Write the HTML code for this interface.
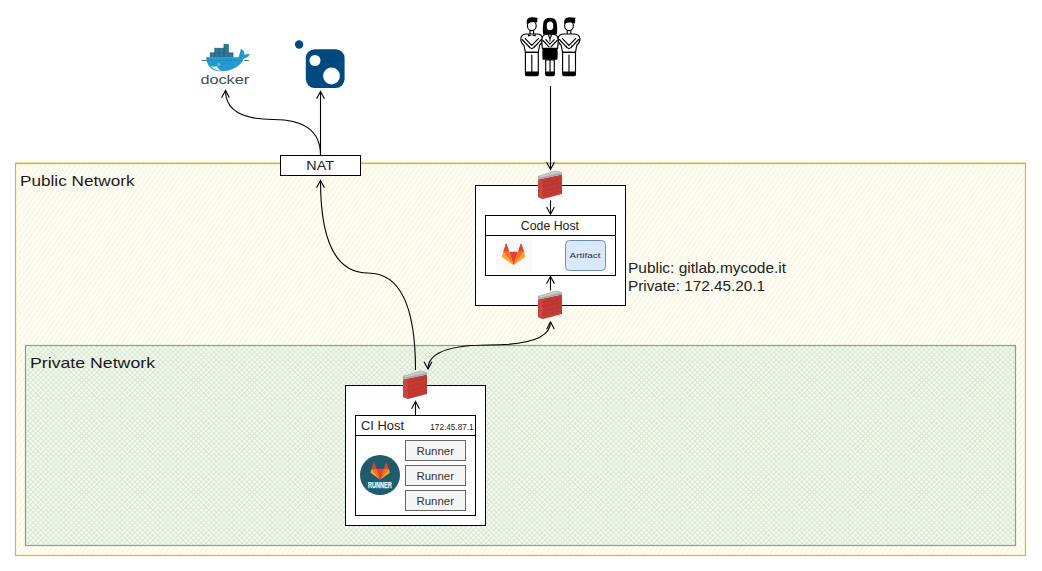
<!DOCTYPE html>
<html><head><meta charset="utf-8"><title>Network diagram</title>
<style>
html,body{margin:0;padding:0;background:#fff;width:1042px;height:571px;overflow:hidden;}
svg{display:block;font-family:"Liberation Sans",sans-serif;}
</style></head>
<body>
<svg width="1042" height="571" viewBox="0 0 1042 571">
<defs>
  <pattern id="hatchY" patternUnits="userSpaceOnUse" width="4" height="4" patternTransform="rotate(-55)">
    <rect width="4" height="4" fill="#fefdf5"/>
    <rect width="4" height="1.2" fill="#f9f4e0"/>
  </pattern>
  <pattern id="hatchG" patternUnits="userSpaceOnUse" width="3.6" height="3.6" patternTransform="rotate(45)">
    <rect width="3.6" height="3.6" fill="#f6fbf2"/>
    <rect width="3.6" height="1" fill="#d7e8d1"/>
    <rect width="1" height="3.6" fill="#d7e8d1"/>
  </pattern>
  <g id="fw">
    <!-- firewall centered at 0,0 ; approx 25x30 -->
    <polygon points="-12,-5.5 12,-10.5 12,9 -7,14 -12,12" fill="#c23b34"/>
    <polygon points="-12,-5.5 -7.5,-4.5 -7,14 -12,12" fill="#cb4943"/>
    <polygon points="-12,-9 6,-14.6 11.7,-12.7 12,-10.5 -12,-5.5" fill="#a9a9a9"/>
    <polygon points="-11,-8.8 6,-14 11,-12.3 -10,-7.3" fill="#c9c9c9"/>
    <g stroke="#a8302b" stroke-width="0.5" opacity="0.55">
      <path d="M-12,-1.5 L12,-6.5 M-12,2.5 L12,-2.5 M-12,6.5 L12,1.5 M-12,10.5 L12,5.5"/>
      <path d="M-2,-6.6 V-2.6 M7,-8.5 V-4.5 M2.5,-3.6 V0.4 M-6,-1.8 V2.2 M-2,1.4 V5.4 M7,-0.5 V3.5 M2.5,4.4 V8.4 M-6,6.2 V10.2"/>
    </g>
  </g>
</defs>

<!-- Public network -->
<rect x="15.5" y="163.5" width="1010" height="392" fill="url(#hatchY)" stroke="#cdb263" stroke-width="1.15"/>
<rect x="16.5" y="164.5" width="1008" height="390" fill="none" stroke="#fcf3cc" stroke-width="1"/>
<line x1="15" y1="162.5" x2="1026" y2="162.5" stroke="#e6d9a4" stroke-width="1"/>
<text x="20" y="186" font-size="15" fill="#1a1a1a" textLength="114.5" lengthAdjust="spacingAndGlyphs">Public Network</text>

<!-- Private network -->
<rect x="25.5" y="345.5" width="990" height="200" fill="url(#hatchG)" stroke="#85a873" stroke-width="1.2"/>
<text x="30" y="368" font-size="15" fill="#1a1a1a" textLength="125" lengthAdjust="spacingAndGlyphs">Private Network</text>



<!-- NAT -->
<rect x="280.5" y="155.5" width="80" height="20" fill="#fff" stroke="#000" stroke-width="1"/>
<text x="306.3" y="170" font-size="12.4" fill="#222" textLength="27.6" lengthAdjust="spacingAndGlyphs">NAT</text>

<!-- Code host -->
<rect x="475.5" y="185.5" width="150" height="120" fill="#fff" stroke="#000" stroke-width="1"/>
<rect x="485.5" y="215.5" width="130" height="60" fill="#fff" stroke="#000" stroke-width="1"/>
<line x1="485.5" y1="235.5" x2="615.5" y2="235.5" stroke="#000" stroke-width="1"/>
<text x="520.8" y="230" font-size="12.2" fill="#222" textLength="58.2" lengthAdjust="spacingAndGlyphs">Code Host</text>
<rect x="565.5" y="240.5" width="40" height="30" rx="4" fill="#dae8fc" stroke="#6c8ebf" stroke-width="1"/>
<text x="569.6" y="258" font-size="7.6" fill="#333" textLength="31" lengthAdjust="spacingAndGlyphs">Artifact</text>
<!-- gitlab logo -->
<rect x="496" y="237.5" width="36" height="34.5" fill="#f9f9f9"/>
<g transform="translate(501.8,242.3) scale(0.1125)">
  <path fill="#e24329" d="M105.06 203.66l38.64-118.92H66.42z"/>
  <path fill="#fc6d26" d="M105.06 203.66L66.42 84.74H12.27z"/>
  <path fill="#fca326" d="M12.27 84.74L.53 120.87a8 8 0 0 0 2.9 8.94l101.63 73.85z"/>
  <path fill="#e24329" d="M12.27 84.74h54.15L43.15 13.12a4 4 0 0 0-7.6 0z"/>
  <path fill="#fc6d26" d="M105.06 203.66l38.64-118.92h54.15z"/>
  <path fill="#fca326" d="M197.85 84.74l11.74 36.13a8 8 0 0 1-2.9 8.94l-101.63 73.85z"/>
  <path fill="#e24329" d="M197.85 84.74H143.7l23.27-71.62a4 4 0 0 1 7.6 0z"/>
</g>
<text font-size="14" fill="#222"><tspan x="628" y="272.5" textLength="158" lengthAdjust="spacingAndGlyphs">Public: gitlab.mycode.it</tspan><tspan x="628" y="290.5" textLength="137" lengthAdjust="spacingAndGlyphs">Private: 172.45.20.1</tspan></text>

<!-- CI host -->
<rect x="345.5" y="385.5" width="140" height="140" fill="#fff" stroke="#000" stroke-width="1"/>
<rect x="355.5" y="415.5" width="120" height="100" fill="#fff" stroke="#000" stroke-width="1"/>
<line x1="355.5" y1="435.5" x2="475.5" y2="435.5" stroke="#000" stroke-width="1"/>
<text x="361" y="430" font-size="12" fill="#222" textLength="43" lengthAdjust="spacingAndGlyphs">CI Host</text>
<text x="430.3" y="430" font-size="8.6" fill="#222" textLength="43.3" lengthAdjust="spacingAndGlyphs">172.45.87.1</text>
<g fill="#f5f5f5" stroke="#666" stroke-width="1">
  <rect x="405.5" y="440.5" width="60" height="20"/>
  <rect x="405.5" y="465.5" width="60" height="20"/>
  <rect x="405.5" y="490.5" width="60" height="20"/>
</g>
<g font-size="11.3" fill="#333">
  <text x="416.4" y="455" textLength="37.6" lengthAdjust="spacingAndGlyphs">Runner</text>
  <text x="416.4" y="480" textLength="37.6" lengthAdjust="spacingAndGlyphs">Runner</text>
  <text x="416.4" y="505" textLength="37.6" lengthAdjust="spacingAndGlyphs">Runner</text>
</g>
<!-- runner logo -->
<circle cx="380" cy="475" r="20" fill="#1f5b6d"/>
<g transform="translate(370.5,461) scale(0.092)">
  <path fill="#e24329" d="M105.06 203.66l38.64-118.92H66.42z"/>
  <path fill="#fc6d26" d="M105.06 203.66L66.42 84.74H12.27z"/>
  <path fill="#fca326" d="M12.27 84.74L.53 120.87a8 8 0 0 0 2.9 8.94l101.63 73.85z"/>
  <path fill="#e24329" d="M12.27 84.74h54.15L43.15 13.12a4 4 0 0 0-7.6 0z"/>
  <path fill="#fc6d26" d="M105.06 203.66l38.64-118.92h54.15z"/>
  <path fill="#fca326" d="M197.85 84.74l11.74 36.13a8 8 0 0 1-2.9 8.94l-101.63 73.85z"/>
  <path fill="#e24329" d="M197.85 84.74H143.7l23.27-71.62a4 4 0 0 1 7.6 0z"/>
</g>
<text x="367.9" y="487.7" font-size="9.3" font-weight="bold" fill="#f4f8fa" stroke="#f4f8fa" stroke-width="0.25" textLength="23.8" lengthAdjust="spacingAndGlyphs">RUNNER</text>

<!-- edges -->
<g fill="none" stroke="#000" stroke-width="1.1">
  <path d="M550.5,86 V169.4"/><path d="M546.6,162.2 L550.5,169.4 L554.4,162.2"/>
  <path d="M550.5,200.3 V214.2"/><path d="M546.6,207.0 L550.5,214.2 L554.4,207.0"/>
  <path d="M550.5,290.5 V276.5"/><path d="M546.6,283.7 L550.5,276.5 L554.4,283.7"/>
  <path d="M415.5,415 V401.5"/><path d="M411.6,408.7 L415.5,401.5 L419.4,408.7"/>
  <path d="M320.5,155 V91.5"/><path d="M316.6,98.7 L320.5,91.5 L324.4,98.7"/>
  <path d="M320.5,155 Q320.5,119.5 273,119.5 Q225.5,119.5 225.5,90.5"/><path d="M221.6,97.7 L225.5,90.5 L229.4,97.7"/>
  <path d="M415.5,370 Q415.5,273 368,273 Q320.5,273 320.5,180.5"/><path d="M316.6,187.7 L320.5,180.5 L324.4,187.7"/>
  <path d="M550.5,322 Q550.5,345 489,345 Q428,345 428,369"/><path d="M546.6,329.2 L550.5,322 L554.4,329.2"/><path d="M424.1,361.8 L428,369 L431.9,361.8"/>
</g>

<!-- firewalls -->
<use href="#fw" x="550" y="185"/>
<use href="#fw" x="550" y="305"/>
<use href="#fw" x="415" y="385"/>

<!-- NuGet -->
<g fill="#004880">
  <circle cx="299.1" cy="44.5" r="4.2"/>
  <rect x="305.8" y="49.2" width="38.8" height="38.9" rx="9"/>
</g>
<circle cx="315" cy="60.5" r="5.5" fill="#fff"/>
<circle cx="331.5" cy="76" r="8.4" fill="#fff"/>

<!-- Docker -->
<g>
  <g fill="#26728f" stroke="#1d5f7a" stroke-width="0.45">
    <rect x="210.1" y="52.8" width="4.6" height="4.5"/><rect x="214.7" y="52.8" width="4.6" height="4.5"/><rect x="219.3" y="52.8" width="4.6" height="4.5"/><rect x="223.9" y="52.8" width="4.6" height="4.5"/><rect x="228.5" y="52.8" width="4.6" height="4.5"/><rect x="214.7" y="48.1" width="4.6" height="4.7"/><rect x="219.3" y="48.1" width="4.6" height="4.7"/><rect x="223.9" y="48.1" width="4.6" height="4.7"/><rect x="223.9" y="44.2" width="4.6" height="3.9"/>
  </g>
  <g stroke="#4a9cbc" stroke-width="0.5">
    <path d="M212.4,53.3 V56.8 M217,53.3 V56.8 M221.6,53.3 V56.8 M226.2,53.3 V56.8 M230.8,53.3 V56.8 M217,48.6 V52.4 M221.6,48.6 V52.4 M226.2,48.6 V52.4 M226.2,44.6 V47.7"/>
  </g>
  <path fill="#2499d1" d="M206,57.3 H238.6 C239.5,54.5 240,51.5 241,48.9 C243.5,50 245,52 244.3,54.8 C246.1,54 248,53.8 249.7,54.3 C248.5,56.8 246.5,58.2 243.9,58.5 C240.5,66.5 232,71.4 220,71.3 C211.5,71.1 206.5,65.5 206,57.3 Z"/>
  <path fill="#e9f3f7" d="M210.3,66 C213,68.8 216.5,70.6 221.5,71.1 C219,69.5 217.5,67.5 216.8,66.2 C214.5,66.8 212.3,66.6 210.3,66 Z"/>
  <circle cx="218.8" cy="64.4" r="0.9" fill="none" stroke="#dff0f8" stroke-width="0.5"/>
  <path d="M201.8,60.5 H206.5 M244.2,60.5 H248.8" stroke="#2b4650" stroke-width="0.8"/>
  <path d="M207,60.5 H243" stroke="#1a7cab" stroke-width="0.6" stroke-dasharray="2.2,1.6"/>
  <text x="200.4" y="84" font-size="13.6" fill="#3a4e55" textLength="48.8" lengthAdjust="spacingAndGlyphs">docker</text>
</g>

<!-- People -->
<g id="people" stroke="#000" stroke-width="1.15" fill="#fff" stroke-linejoin="round" stroke-linecap="round">
<g transform="translate(0.00,0)">
  <path d="M530,29.5 V34 M533.6,29.5 V34"/>
  <ellipse cx="531.8" cy="25.8" rx="4.4" ry="4.8"/>
  <path fill="#000" stroke="none" d="M527,24 C526.2,20.5 527.4,18 530,17.5 C532.6,17 535.2,17.2 537.9,18.2 L537.1,19.8 C537.6,20.8 537.4,21.9 536.9,22.6 C533.8,21.4 530,22 527,24 Z"/>
  <path d="M525.4,52.3 L524,45.5 C522.3,44 520.6,41.5 520.8,38.8 C521.1,35.6 524,34 527,34 L536.6,34 C539.6,34 542.4,35.6 542.7,38.8 C542.9,41.5 541.2,44 539.5,45.5 L538.3,52.3 Z"/>
  <path fill="none" d="M522.2,39.5 L529.8,47.6 M525.2,38.6 L531.8,45.4 L538.4,38.6 M541.4,39.5 L533.8,47.6"/>
  <path fill="#fff" d="M528.8,46 C529.8,47.8 531,48.6 531.8,48.6 C532.6,48.6 533.8,47.8 534.8,46"/>
  <rect x="525.4" y="52.3" width="12.9" height="19.8"/>
  <path d="M531.8,55 V72"/>
  <path fill="#000" stroke="none" d="M524.9,72 H538.8 V74.6 C538.8,75.6 538,76.3 537,76.3 H526.7 C525.7,76.3 524.9,75.6 524.9,74.6 Z"/>
</g>
<g transform="translate(37.20,0)">
  <path d="M530,29.5 V34 M533.6,29.5 V34"/>
  <ellipse cx="531.8" cy="25.8" rx="4.4" ry="4.8"/>
  <path fill="#000" stroke="none" d="M527.2,24 C526.5,21 527.2,18.8 529.3,18 C531.8,17 534.6,17.3 536.8,17.8 L538.4,17.4 L537.8,19.2 C538.3,20.3 538.1,22.2 537.2,23.8 C534.8,22.2 530.4,22.2 527.2,24 Z"/>
  <path d="M525.4,52.3 L524,45.5 C522.3,44 520.6,41.5 520.8,38.8 C521.1,35.6 524,34 527,34 L536.6,34 C539.6,34 542.4,35.6 542.7,38.8 C542.9,41.5 541.2,44 539.5,45.5 L538.3,52.3 Z"/>
  <path fill="none" d="M522.2,39.5 L529.8,47.6 M525.2,38.6 L531.8,45.4 L538.4,38.6 M541.4,39.5 L533.8,47.6"/>
  <path fill="#fff" d="M528.8,46 C529.8,47.8 531,48.6 531.8,48.6 C532.6,48.6 533.8,47.8 534.8,46"/>
  <rect x="525.4" y="52.3" width="12.9" height="19.8"/>
  <path d="M531.8,55 V72"/>
  <path fill="#000" stroke="none" d="M524.9,72 H538.8 V74.6 C538.8,75.6 538,76.3 537,76.3 H526.7 C525.7,76.3 524.9,75.6 524.9,74.6 Z"/>
</g>
  <path fill="#000" stroke="none" d="M527.8,34 L531.8,35.4 L535.8,34 L535.6,36.6 L531.8,35.6 L528,36.6 Z"/>
  <!-- woman -->
  <path fill="#000" stroke="none" d="M543.2,34.6 C542.6,30 542.7,24 543.9,21 C545,18.5 547.5,17.8 550,17.8 C552.5,17.8 555,18.5 556.1,21 C557.3,24 557.4,30 556.8,34.6 Z"/>
  <ellipse cx="550" cy="25.9" rx="3.9" ry="4.9"/>
  <path d="M542.4,48.5 C541.8,44 541.6,39.5 542.5,36.8 C543.4,34.8 546,34.2 548,34.2 L552,34.2 C554,34.2 556.6,34.8 557.5,36.8 C558.4,39.5 558.2,44 557.6,48.5 Z"/>
  <path fill="none" d="M548.3,34.4 L550,38.8 L551.7,34.4 M550,38.8 V41 M543,40.5 L549,46.8 M545.8,39.6 L550,44.2 L554.2,39.6 M557,40.5 L551,46.8"/>
  <path fill="#000" stroke="none" d="M542.7,47.8 H557.3 C557.8,51.6 557.8,55.8 557.3,59.8 H542.7 C542.2,55.8 542.2,51.6 542.7,47.8 Z"/>
  <rect x="545.7" y="59.8" width="8.6" height="12.2"/>
  <path d="M550,60 V72"/>
  <path fill="#000" stroke="none" d="M545.1,72 H554.9 V74.6 C554.9,75.6 554.1,76.3 553.1,76.3 H546.9 C545.9,76.3 545.1,75.6 545.1,74.6 Z"/>
</g>
</svg>
</body></html>
